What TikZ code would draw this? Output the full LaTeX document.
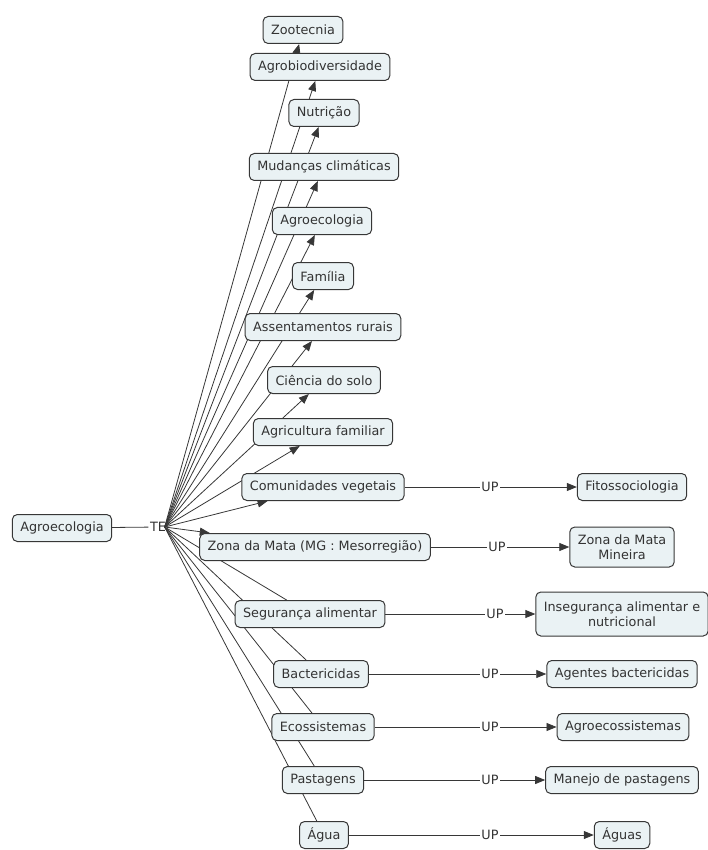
\documentclass[tikz,border=0pt]{standalone}
\usepackage{fontspec}
\setmainfont{DejaVu Sans}
\usetikzlibrary{arrows.meta,backgrounds}
\definecolor{cmapfill}{RGB}{234,242,244}
\definecolor{cmapline}{RGB}{55,55,55}

\begin{document}
\begin{tikzpicture}[x=1pt, y=-1pt,
    concept/.style={draw=cmapline, fill=cmapfill, rounded corners=5pt, line width=1pt,
        minimum height=27pt, inner xsep=8pt, text=black!80, align=center,
        font=\fontsize{12.8}{15}\selectfont},
    linkword/.style={inner sep=1.5pt, text=black!80, font=\fontsize{12.8}{15}\selectfont},
    link/.style={draw=cmapline, line width=0.8pt},
    >={Triangle[length=10pt,width=8pt]}]
    \useasboundingbox (0,0) rectangle (707,850);
    % root and linking phrase
    \node[concept] (Root) at (62,528) {Agroecologia};
    \node[linkword] (TE) at (158,527) {TE};
    \coordinate (Fan) at ([xshift=-3pt]TE.east);
    % upper concepts
    \node[concept] (Zoo) at (303,30) {Zootecnia};
    \node[concept] (Agrobio) at (320,67) {Agrobiodiversidade};
    \node[concept] (Nutri) at (324,113) {Nutrição};
    \node[concept] (Mudanca) at (324,167) {Mudanças climáticas};
    \node[concept] (Agroeco) at (322,221) {Agroecologia};
    \node[concept] (Familia) at (323,276) {Família};
    \node[concept] (Assent) at (323,327) {Assentamentos rurais};
    \node[concept] (Solo) at (324,380) {Ciência do solo};
    \node[concept] (AgriFam) at (323,432) {Agricultura familiar};
    \node[concept] (Comun) at (323,487) {Comunidades vegetais};
    % lower concepts
    \node[concept] (Zona) at (315,547) {Zona da Mata (MG : Mesorregião)};
    \node[concept] (Seg) at (310,614) {Segurança alimentar};
    \node[concept] (Bact) at (321,674) {Bactericidas};
    \node[concept] (Ecos) at (323,727) {Ecossistemas};
    \node[concept] (Past) at (323,780) {Pastagens};
    \node[concept] (Agua) at (324,835) {Água};
    % used-for terms
    \node[linkword] (UpA) at (490,487) {UP};
    \node[linkword] (UpB) at (497,547) {UP};
    \node[linkword] (UpC) at (495,614) {UP};
    \node[linkword] (UpD) at (490,674) {UP};
    \node[linkword] (UpE) at (490,727) {UP};
    \node[linkword] (UpF) at (490,780) {UP};
    \node[linkword] (UpG) at (490,835) {UP};
    \node[concept] (Fito) at (632,487) {Fitossociologia};
    \node[concept, minimum height=40pt] (ZonaMin) at (622,547) {Zona da Mata\\Mineira};
    \node[concept, minimum height=44pt] (Inseg) at (622,614) {Insegurança alimentar e\\nutricional};
    \node[concept] (AgBact) at (622,674) {Agentes bactericidas};
    \node[concept] (Agroecos) at (623,727) {Agroecossistemas};
    \node[concept] (Manejo) at (622,780) {Manejo de pastagens};
    \node[concept] (Aguas) at (622,835) {Águas};
    % connectors behind the boxes
    \begin{scope}[on background layer]
        \draw[link] (Root) -- (TE);
        \draw[link, ->] (Fan) -- (Zoo);
        \draw[link, ->] (Fan) -- (Agrobio);
        \draw[link, ->] (Fan) -- (Nutri);
        \draw[link, ->] (Fan) -- (Mudanca);
        \draw[link, ->] (Fan) -- (Agroeco);
        \draw[link, ->] (Fan) -- (Familia);
        \draw[link, ->] (Fan) -- (Assent);
        \draw[link, ->] (Fan) -- (Solo);
        \draw[link, ->] (Fan) -- (AgriFam);
        \draw[link, ->] (Fan) -- (Comun);
        \draw[link, ->] (Fan) -- (Zona);
        \draw[link] (Fan) -- (Seg);
        \draw[link] (Fan) -- (Bact);
        \draw[link] (Fan) -- (Ecos);
        \draw[link] (Fan) -- (Past);
        \draw[link] (Fan) -- (Agua);
    \end{scope}
    \draw[link] (Comun) -- (UpA);
    \draw[link, ->] (UpA) -- (Fito);
    \draw[link] (Zona) -- (UpB);
    \draw[link, ->] (UpB) -- (ZonaMin);
    \draw[link] (Seg) -- (UpC);
    \draw[link, ->] (UpC) -- (Inseg);
    \draw[link] (Bact) -- (UpD);
    \draw[link, ->] (UpD) -- (AgBact);
    \draw[link] (Ecos) -- (UpE);
    \draw[link, ->] (UpE) -- (Agroecos);
    \draw[link] (Past) -- (UpF);
    \draw[link, ->] (UpF) -- (Manejo);
    \draw[link] (Agua) -- (UpG);
    \draw[link, ->] (UpG) -- (Aguas);
\end{tikzpicture}
\end{document}
